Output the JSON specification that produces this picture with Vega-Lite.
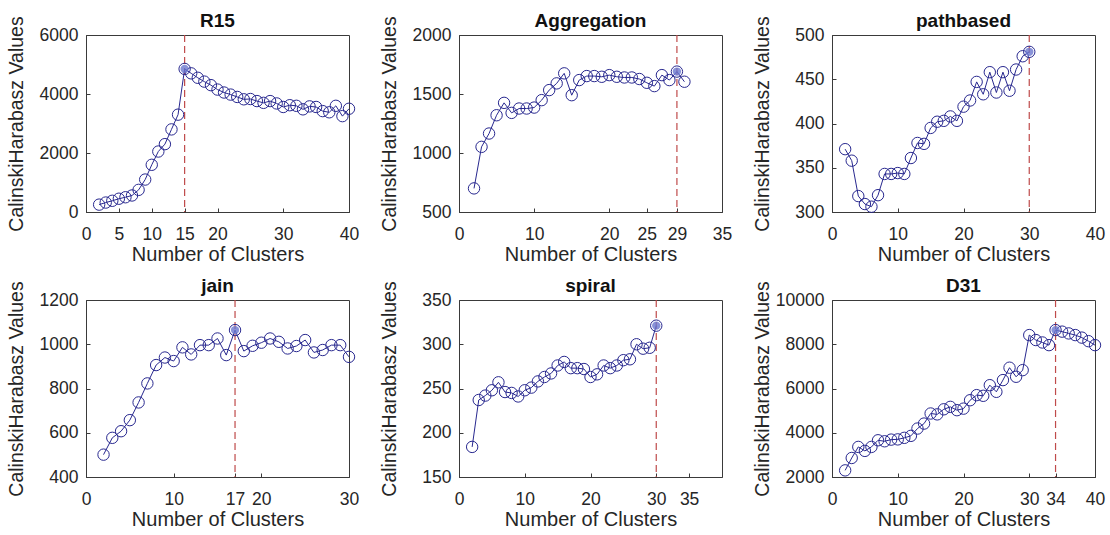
{
  "$schema": "https://vega.github.io/schema/vega-lite/v6.json",
  "background": "white",
  "padding": {"left": 5, "top": 11, "right": 4, "bottom": 2},
  "columns": 3,
  "spacing": {"row": 88, "column": 110},
  "bounds": "flush",
  "datasets": {
    "R15": [
      {"k": 2, "ch": 250}, {"k": 3, "ch": 320}, {"k": 4, "ch": 380}, {"k": 5, "ch": 450}, {"k": 6, "ch": 500},
      {"k": 7, "ch": 560}, {"k": 8, "ch": 750}, {"k": 9, "ch": 1100}, {"k": 10, "ch": 1600}, {"k": 11, "ch": 2050},
      {"k": 12, "ch": 2300}, {"k": 13, "ch": 2800}, {"k": 14, "ch": 3300}, {"k": 15, "ch": 4850}, {"k": 16, "ch": 4700},
      {"k": 17, "ch": 4550}, {"k": 18, "ch": 4420}, {"k": 19, "ch": 4300}, {"k": 20, "ch": 4150}, {"k": 21, "ch": 4050},
      {"k": 22, "ch": 3980}, {"k": 23, "ch": 3900}, {"k": 24, "ch": 3820}, {"k": 25, "ch": 3830}, {"k": 26, "ch": 3760},
      {"k": 27, "ch": 3700}, {"k": 28, "ch": 3760}, {"k": 29, "ch": 3680}, {"k": 30, "ch": 3560}, {"k": 31, "ch": 3620},
      {"k": 32, "ch": 3600}, {"k": 33, "ch": 3480}, {"k": 34, "ch": 3580}, {"k": 35, "ch": 3560}, {"k": 36, "ch": 3420},
      {"k": 37, "ch": 3380}, {"k": 38, "ch": 3600}, {"k": 39, "ch": 3250}, {"k": 40, "ch": 3500}
    ],
    "Aggregation": [
      {"k": 2, "ch": 700}, {"k": 3, "ch": 1052}, {"k": 4, "ch": 1165}, {"k": 5, "ch": 1320}, {"k": 6, "ch": 1425},
      {"k": 7, "ch": 1340}, {"k": 8, "ch": 1377}, {"k": 9, "ch": 1377}, {"k": 10, "ch": 1385}, {"k": 11, "ch": 1448},
      {"k": 12, "ch": 1533}, {"k": 13, "ch": 1590}, {"k": 14, "ch": 1675}, {"k": 15, "ch": 1490}, {"k": 16, "ch": 1618},
      {"k": 17, "ch": 1652}, {"k": 18, "ch": 1652}, {"k": 19, "ch": 1646}, {"k": 20, "ch": 1660}, {"k": 21, "ch": 1646},
      {"k": 22, "ch": 1640}, {"k": 23, "ch": 1640}, {"k": 24, "ch": 1627}, {"k": 25, "ch": 1595}, {"k": 26, "ch": 1567},
      {"k": 27, "ch": 1660}, {"k": 28, "ch": 1618}, {"k": 29, "ch": 1690}, {"k": 30, "ch": 1604}
    ],
    "pathbased": [
      {"k": 2, "ch": 371}, {"k": 3, "ch": 358}, {"k": 4, "ch": 318}, {"k": 5, "ch": 309}, {"k": 6, "ch": 306},
      {"k": 7, "ch": 319}, {"k": 8, "ch": 343}, {"k": 9, "ch": 343}, {"k": 10, "ch": 344}, {"k": 11, "ch": 343},
      {"k": 12, "ch": 361}, {"k": 13, "ch": 378}, {"k": 14, "ch": 377}, {"k": 15, "ch": 395}, {"k": 16, "ch": 402},
      {"k": 17, "ch": 403}, {"k": 18, "ch": 408}, {"k": 19, "ch": 403}, {"k": 20, "ch": 419}, {"k": 21, "ch": 426},
      {"k": 22, "ch": 447}, {"k": 23, "ch": 433}, {"k": 24, "ch": 458}, {"k": 25, "ch": 435}, {"k": 26, "ch": 458},
      {"k": 27, "ch": 437}, {"k": 28, "ch": 461}, {"k": 29, "ch": 476}, {"k": 30, "ch": 481}
    ],
    "jain": [
      {"k": 2, "ch": 501}, {"k": 3, "ch": 577}, {"k": 4, "ch": 607}, {"k": 5, "ch": 657}, {"k": 6, "ch": 737},
      {"k": 7, "ch": 823}, {"k": 8, "ch": 906}, {"k": 9, "ch": 940}, {"k": 10, "ch": 924}, {"k": 11, "ch": 986},
      {"k": 12, "ch": 954}, {"k": 13, "ch": 996}, {"k": 14, "ch": 996}, {"k": 15, "ch": 1026}, {"k": 16, "ch": 951},
      {"k": 17, "ch": 1064}, {"k": 18, "ch": 969}, {"k": 19, "ch": 993}, {"k": 20, "ch": 1007}, {"k": 21, "ch": 1026},
      {"k": 22, "ch": 1011}, {"k": 23, "ch": 981}, {"k": 24, "ch": 992}, {"k": 25, "ch": 1019}, {"k": 26, "ch": 963},
      {"k": 27, "ch": 974}, {"k": 28, "ch": 996}, {"k": 29, "ch": 996}, {"k": 30, "ch": 943}
    ],
    "spiral": [
      {"k": 2, "ch": 184}, {"k": 3, "ch": 237}, {"k": 4, "ch": 242}, {"k": 5, "ch": 248}, {"k": 6, "ch": 257},
      {"k": 7, "ch": 246}, {"k": 8, "ch": 245}, {"k": 9, "ch": 241}, {"k": 10, "ch": 248}, {"k": 11, "ch": 251},
      {"k": 12, "ch": 258}, {"k": 13, "ch": 263}, {"k": 14, "ch": 267}, {"k": 15, "ch": 276}, {"k": 16, "ch": 280},
      {"k": 17, "ch": 273}, {"k": 18, "ch": 273}, {"k": 19, "ch": 272}, {"k": 20, "ch": 263}, {"k": 21, "ch": 266},
      {"k": 22, "ch": 276}, {"k": 23, "ch": 273}, {"k": 24, "ch": 276}, {"k": 25, "ch": 282}, {"k": 26, "ch": 283},
      {"k": 27, "ch": 300}, {"k": 28, "ch": 295}, {"k": 29, "ch": 296}, {"k": 30, "ch": 321}
    ],
    "D31": [
      {"k": 2, "ch": 2300}, {"k": 3, "ch": 2860}, {"k": 4, "ch": 3360}, {"k": 5, "ch": 3180}, {"k": 6, "ch": 3360},
      {"k": 7, "ch": 3660}, {"k": 8, "ch": 3615}, {"k": 9, "ch": 3690}, {"k": 10, "ch": 3700}, {"k": 11, "ch": 3770},
      {"k": 12, "ch": 3860}, {"k": 13, "ch": 4190}, {"k": 14, "ch": 4415}, {"k": 15, "ch": 4870}, {"k": 16, "ch": 4830},
      {"k": 17, "ch": 5060}, {"k": 18, "ch": 5170}, {"k": 19, "ch": 5020}, {"k": 20, "ch": 5090}, {"k": 21, "ch": 5470},
      {"k": 22, "ch": 5700}, {"k": 23, "ch": 5670}, {"k": 24, "ch": 6150}, {"k": 25, "ch": 5850}, {"k": 26, "ch": 6380},
      {"k": 27, "ch": 6940}, {"k": 28, "ch": 6530}, {"k": 29, "ch": 6830}, {"k": 30, "ch": 8415}, {"k": 31, "ch": 8190},
      {"k": 32, "ch": 8080}, {"k": 33, "ch": 7960}, {"k": 34, "ch": 8640}, {"k": 35, "ch": 8570}, {"k": 36, "ch": 8490},
      {"k": 37, "ch": 8415}, {"k": 38, "ch": 8300}, {"k": 39, "ch": 8140}, {"k": 40, "ch": 7960}
    ],
    "opt": [
      {"ds": "R15", "k": 15, "ch": 4850},
      {"ds": "Aggregation", "k": 29, "ch": 1690},
      {"ds": "pathbased", "k": 30, "ch": 481},
      {"ds": "jain", "k": 17, "ch": 1064},
      {"ds": "spiral", "k": 30, "ch": 321},
      {"ds": "D31", "k": 34, "ch": 8640}
    ]
  },
  "concat": [
    {
      "title": "R15", "width": 263, "height": 177,
      "layer": [
        {"data": {"name": "opt"}, "transform": [{"filter": "datum.ds === 'R15'"}],
         "mark": {"type": "rule", "color": "#bf4a4a", "strokeDash": [7, 4], "strokeWidth": 1.2},
         "encoding": {"x": {"field": "k", "type": "quantitative"}}},
        {"data": {"name": "R15"},
         "mark": {"type": "line", "color": "#28288f", "strokeWidth": 1, "point": {"filled": false, "size": 130, "strokeWidth": 1, "color": "#28288f"}},
         "encoding": {
           "x": {"field": "k", "type": "quantitative", "title": "Number of Clusters", "scale": {"domain": [0, 40], "nice": false, "zero": false}, "axis": {"values": [0, 5, 10, 15, 20, 30, 40], "format": "d"}},
           "y": {"field": "ch", "type": "quantitative", "title": "CalinskiHarabasz Values", "scale": {"domain": [0, 6000], "nice": false, "zero": false}, "axis": {"values": [0, 2000, 4000, 6000], "format": "d"}}
         }},
        {"data": {"name": "opt"}, "transform": [{"filter": "datum.ds === 'R15'"}],
         "mark": {"type": "point", "filled": true, "size": 70, "color": "#6b78d0", "opacity": 0.8},
         "encoding": {"x": {"field": "k", "type": "quantitative"}, "y": {"field": "ch", "type": "quantitative"}}}
      ]
    },
    {
      "title": "Aggregation", "width": 263, "height": 177,
      "layer": [
        {"data": {"name": "opt"}, "transform": [{"filter": "datum.ds === 'Aggregation'"}],
         "mark": {"type": "rule", "color": "#bf4a4a", "strokeDash": [7, 4], "strokeWidth": 1.2},
         "encoding": {"x": {"field": "k", "type": "quantitative"}}},
        {"data": {"name": "Aggregation"},
         "mark": {"type": "line", "color": "#28288f", "strokeWidth": 1, "point": {"filled": false, "size": 130, "strokeWidth": 1, "color": "#28288f"}},
         "encoding": {
           "x": {"field": "k", "type": "quantitative", "title": "Number of Clusters", "scale": {"domain": [0, 35], "nice": false, "zero": false}, "axis": {"values": [0, 10, 20, 25, 29, 35], "format": "d"}},
           "y": {"field": "ch", "type": "quantitative", "title": "CalinskiHarabasz Values", "scale": {"domain": [500, 2000], "nice": false, "zero": false}, "axis": {"values": [500, 1000, 1500, 2000], "format": "d"}}
         }},
        {"data": {"name": "opt"}, "transform": [{"filter": "datum.ds === 'Aggregation'"}],
         "mark": {"type": "point", "filled": true, "size": 70, "color": "#6b78d0", "opacity": 0.8},
         "encoding": {"x": {"field": "k", "type": "quantitative"}, "y": {"field": "ch", "type": "quantitative"}}}
      ]
    },
    {
      "title": "pathbased", "width": 263, "height": 177,
      "layer": [
        {"data": {"name": "opt"}, "transform": [{"filter": "datum.ds === 'pathbased'"}],
         "mark": {"type": "rule", "color": "#bf4a4a", "strokeDash": [7, 4], "strokeWidth": 1.2},
         "encoding": {"x": {"field": "k", "type": "quantitative"}}},
        {"data": {"name": "pathbased"},
         "mark": {"type": "line", "color": "#28288f", "strokeWidth": 1, "point": {"filled": false, "size": 130, "strokeWidth": 1, "color": "#28288f"}},
         "encoding": {
           "x": {"field": "k", "type": "quantitative", "title": "Number of Clusters", "scale": {"domain": [0, 40], "nice": false, "zero": false}, "axis": {"values": [0, 10, 20, 30, 40], "format": "d"}},
           "y": {"field": "ch", "type": "quantitative", "title": "CalinskiHarabasz Values", "scale": {"domain": [300, 500], "nice": false, "zero": false}, "axis": {"values": [300, 350, 400, 450, 500], "format": "d"}}
         }},
        {"data": {"name": "opt"}, "transform": [{"filter": "datum.ds === 'pathbased'"}],
         "mark": {"type": "point", "filled": true, "size": 70, "color": "#6b78d0", "opacity": 0.8},
         "encoding": {"x": {"field": "k", "type": "quantitative"}, "y": {"field": "ch", "type": "quantitative"}}}
      ]
    },
    {
      "title": "jain", "width": 263, "height": 177,
      "layer": [
        {"data": {"name": "opt"}, "transform": [{"filter": "datum.ds === 'jain'"}],
         "mark": {"type": "rule", "color": "#bf4a4a", "strokeDash": [7, 4], "strokeWidth": 1.2},
         "encoding": {"x": {"field": "k", "type": "quantitative"}}},
        {"data": {"name": "jain"},
         "mark": {"type": "line", "color": "#28288f", "strokeWidth": 1, "point": {"filled": false, "size": 130, "strokeWidth": 1, "color": "#28288f"}},
         "encoding": {
           "x": {"field": "k", "type": "quantitative", "title": "Number of Clusters", "scale": {"domain": [0, 30], "nice": false, "zero": false}, "axis": {"values": [0, 10, 17, 20, 30], "format": "d"}},
           "y": {"field": "ch", "type": "quantitative", "title": "CalinskiHarabasz Values", "scale": {"domain": [400, 1200], "nice": false, "zero": false}, "axis": {"values": [400, 600, 800, 1000, 1200], "format": "d"}}
         }},
        {"data": {"name": "opt"}, "transform": [{"filter": "datum.ds === 'jain'"}],
         "mark": {"type": "point", "filled": true, "size": 70, "color": "#6b78d0", "opacity": 0.8},
         "encoding": {"x": {"field": "k", "type": "quantitative"}, "y": {"field": "ch", "type": "quantitative"}}}
      ]
    },
    {
      "title": "spiral", "width": 263, "height": 177,
      "layer": [
        {"data": {"name": "opt"}, "transform": [{"filter": "datum.ds === 'spiral'"}],
         "mark": {"type": "rule", "color": "#bf4a4a", "strokeDash": [7, 4], "strokeWidth": 1.2},
         "encoding": {"x": {"field": "k", "type": "quantitative"}}},
        {"data": {"name": "spiral"},
         "mark": {"type": "line", "color": "#28288f", "strokeWidth": 1, "point": {"filled": false, "size": 130, "strokeWidth": 1, "color": "#28288f"}},
         "encoding": {
           "x": {"field": "k", "type": "quantitative", "title": "Number of Clusters", "scale": {"domain": [0, 40], "nice": false, "zero": false}, "axis": {"values": [0, 10, 20, 30, 35], "format": "d"}},
           "y": {"field": "ch", "type": "quantitative", "title": "CalinskiHarabasz Values", "scale": {"domain": [150, 350], "nice": false, "zero": false}, "axis": {"values": [150, 200, 250, 300, 350], "format": "d"}}
         }},
        {"data": {"name": "opt"}, "transform": [{"filter": "datum.ds === 'spiral'"}],
         "mark": {"type": "point", "filled": true, "size": 70, "color": "#6b78d0", "opacity": 0.8},
         "encoding": {"x": {"field": "k", "type": "quantitative"}, "y": {"field": "ch", "type": "quantitative"}}}
      ]
    },
    {
      "title": "D31", "width": 263, "height": 177,
      "layer": [
        {"data": {"name": "opt"}, "transform": [{"filter": "datum.ds === 'D31'"}],
         "mark": {"type": "rule", "color": "#bf4a4a", "strokeDash": [7, 4], "strokeWidth": 1.2},
         "encoding": {"x": {"field": "k", "type": "quantitative"}}},
        {"data": {"name": "D31"},
         "mark": {"type": "line", "color": "#28288f", "strokeWidth": 1, "point": {"filled": false, "size": 130, "strokeWidth": 1, "color": "#28288f"}},
         "encoding": {
           "x": {"field": "k", "type": "quantitative", "title": "Number of Clusters", "scale": {"domain": [0, 40], "nice": false, "zero": false}, "axis": {"values": [0, 10, 20, 30, 34, 40], "format": "d"}},
           "y": {"field": "ch", "type": "quantitative", "title": "CalinskiHarabasz Values", "scale": {"domain": [2000, 10000], "nice": false, "zero": false}, "axis": {"values": [2000, 4000, 6000, 8000, 10000], "format": "d"}}
         }},
        {"data": {"name": "opt"}, "transform": [{"filter": "datum.ds === 'D31'"}],
         "mark": {"type": "point", "filled": true, "size": 70, "color": "#6b78d0", "opacity": 0.8},
         "encoding": {"x": {"field": "k", "type": "quantitative"}, "y": {"field": "ch", "type": "quantitative"}}}
      ]
    }
  ],
  "config": {
    "font": "Liberation Sans",
    "view": {"stroke": "#3a3a3a", "strokeWidth": 1},
    "axis": {
      "grid": false,
      "labelFont": "Liberation Sans",
      "labelFontSize": 17.5,
      "labelColor": "#262626",
      "titleFont": "Liberation Sans",
      "titleFontWeight": "normal",
      "titleColor": "#262626",
      "domainColor": "#3a3a3a",
      "tickColor": "#3a3a3a",
      "tickSize": -4,
      "tickWidth": 1,
      "labelFlush": false,
      "labelOverlap": false
    },
    "axisX": {"labelPadding": 17, "titlePadding": 1.5, "titleFontSize": 20},
    "axisY": {"labelPadding": 12, "titlePadding": 2, "minExtent": 58, "maxExtent": 58, "titleFontSize": 19.5},
    "title": {"font": "Liberation Sans", "fontSize": 19, "fontWeight": "bold", "color": "#111111", "offset": -15}
  }
}
